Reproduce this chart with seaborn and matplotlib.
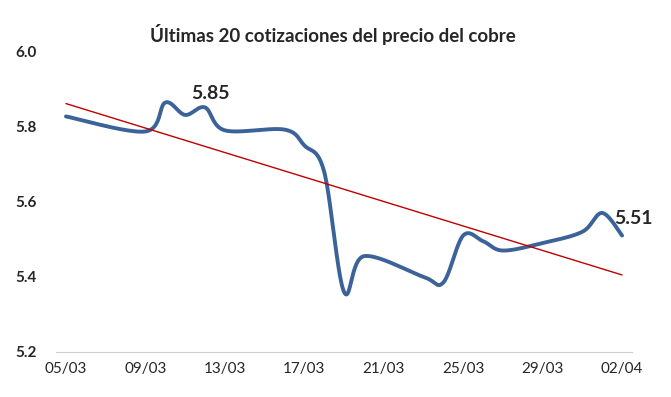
# Últimas 20 cotizaciones del precio del cobre - línea suavizada + tendencia lineal
import numpy as np
import pandas as pd
import seaborn as sns
import matplotlib
matplotlib.use("Agg")
import matplotlib.pyplot as plt
import matplotlib.dates as mdates

fechas = ["05/03", "09/03", "10/03", "11/03", "12/03", "13/03", "16/03", "17/03",
          "18/03", "19/03", "20/03", "23/03", "24/03", "25/03", "26/03", "27/03",
          "29/03", "31/03", "01/04", "02/04"]
precios = [5.827, 5.787, 5.864, 5.831, 5.851, 5.790, 5.792, 5.750,
           5.680, 5.360, 5.455, 5.400, 5.385, 5.510, 5.495, 5.470,
           5.490, 5.520, 5.570, 5.510]
etiquetas_x = ["05/03", "09/03", "13/03", "17/03", "21/03", "25/03", "29/03", "02/04"]
ticks_y = [5.2, 5.4, 5.6, 5.8, 6.0]
titulo = "Últimas 20 cotizaciones del precio del cobre"


def suavizar(x, y, n=25):
    # curva tipo Excel (Bezier con tangentes de Catmull-Rom)
    px = np.concatenate([[x[0]], x, [x[-1]]])
    py = np.concatenate([[y[0]], y, [y[-1]]])
    t = np.linspace(0, 1, n)
    xs, ys = [], []
    for i in range(1, len(px) - 2):
        p0x, p1x, p2x, p3x = px[i - 1], px[i], px[i + 1], px[i + 2]
        p0y, p1y, p2y, p3y = py[i - 1], py[i], py[i + 1], py[i + 2]
        c1x, c1y = p1x + (p2x - p0x) / 6, p1y + (p2y - p0y) / 6
        c2x, c2y = p2x - (p3x - p1x) / 6, p2y - (p3y - p1y) / 6
        b = [(1 - t) ** 3, 3 * (1 - t) ** 2 * t, 3 * (1 - t) * t ** 2, t ** 3]
        xs.append(b[0] * p1x + b[1] * c1x + b[2] * c2x + b[3] * p2x)
        ys.append(b[0] * p1y + b[1] * c1y + b[2] * c2y + b[3] * p2y)
    return np.concatenate(xs), np.concatenate(ys)


sns.set_style("white")
plt.rcParams["font.family"] = ["Lato", "DejaVu Sans"]

dias = mdates.date2num(pd.to_datetime(fechas, format="%d/%m"))
pos_x = mdates.date2num(pd.to_datetime(etiquetas_x, format="%d/%m"))
df = pd.DataFrame({"dia": dias, "precio": precios})

fig = plt.figure(figsize=(6.71, 3.97), dpi=100)
ax = fig.add_axes([0.0835, 0.1134, 0.8584, 0.757])

sx, sy = suavizar(df["dia"].values, df["precio"].values)
curva = pd.DataFrame({"dia": sx, "precio": sy})
sns.lineplot(data=curva, x="dia", y="precio", sort=False, color="#3B6399",
             linewidth=2.8, ax=ax, zorder=2)
sns.regplot(data=df, x="dia", y="precio", scatter=False, ci=None, truncate=True,
            color="#C00000", line_kws={"linewidth": 1.0, "zorder": 3}, ax=ax)

ax.set_xlim(dias[0] - 0.5, dias[-1] + 0.5)
ax.set_ylim(5.2, 6.0)
ax.set_yticks(ticks_y)
ax.set_yticklabels([f"{v:.1f}" for v in ticks_y], fontweight="bold", fontsize=11)
ax.tick_params(axis="y", length=0, pad=14)

ax.set_xticks(pos_x)
ax.set_xticklabels(etiquetas_x, fontsize=11)
ax.set_xticks(pos_x - 0.5, minor=True)
ax.tick_params(axis="x", which="major", length=0, pad=7)
ax.tick_params(axis="x", which="minor", length=4, color="#D0D0D0", width=1)
ax.set_xlabel("")
ax.set_ylabel("")

for lado in ["top", "right", "left"]:
    ax.spines[lado].set_visible(False)
ax.spines["bottom"].set_color("#D0D0D0")

i_max = fechas.index("12/03")
ax.annotate(f"{precios[i_max]:.2f}", (dias[i_max], precios[i_max]), xytext=(4, 10),
            textcoords="offset points", ha="center", va="center",
            fontsize=14, fontweight="bold")
ax.annotate(f"{precios[-1]:.2f}", (dias[-1], precios[-1]), xytext=(8, 12),
            textcoords="offset points", ha="center", va="center",
            fontsize=14, fontweight="bold")

fig.text(0.496, 0.912, titulo, ha="center", va="center", fontsize=13.5, fontweight="bold")

fig.savefig("out.png", dpi=100)
